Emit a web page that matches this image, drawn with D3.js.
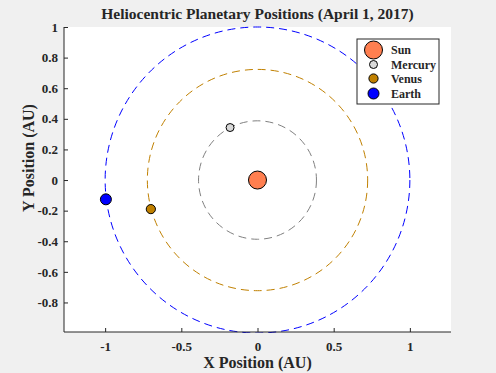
<!DOCTYPE html>
<html>
<head>
<meta charset="utf-8">
<script src="https://cdn.jsdelivr.net/npm/d3@7"></script>
<style>
  body { margin: 0; background: #f0f0f0; }
  text { font-family: "Liberation Serif", "Times New Roman", serif; font-weight: bold; fill: #262626; }
</style>
</head>
<body>
<script>
// chart data
var planets = ["Sun", "Mercury", "Venus", "Earth"];
var orbitRadius = [0, 0.387, 0.723, 1.0];
var posX = [0, -0.18, -0.70, -0.995];
var posY = [0, 0.343, -0.19, -0.126];
var xTicks = [-1, -0.5, 0, 0.5, 1];
var yTicks = [1, 0.8, 0.6, 0.4, 0.2, 0, -0.2, -0.4, -0.6, -0.8];

var fillColors = ["#ff7f50", "#d9d9d9", "#c08000", "#0000ff"];
var orbitColors = [null, "#808080", "#c08000", "#0000ff"];
var markerR = [9, 4, 4.6, 5.5];

function drawChart() {

var width = 496, height = 373;
var mLeft = 64, mRight = 451, mTop = 27, mBottom = 332;

var svg = d3.select("body").append("svg")
  .attr("width", width)
  .attr("height", height);

svg.append("rect").attr("width", width).attr("height", height).attr("fill", "#f0f0f0");

var x = d3.scaleLinear().domain([-1.27, 1.27]).range([mLeft, mRight]);
var y = d3.scaleLinear().domain([-0.993, 1.0]).range([mBottom, mTop]);

// plot area
svg.append("rect")
  .attr("x", mLeft).attr("y", mTop)
  .attr("width", mRight - mLeft).attr("height", mBottom - mTop)
  .attr("fill", "#fff");

svg.append("clipPath").attr("id", "clip")
  .append("rect")
  .attr("x", mLeft).attr("y", mTop - 1)
  .attr("width", mRight - mLeft).attr("height", mBottom - mTop + 2);

var plot = svg.append("g").attr("clip-path", "url(#clip)");

// orbits
plot.selectAll("ellipse.orbit")
  .data(planets.slice(1))
  .enter()
  .append("ellipse")
  .attr("class", "orbit")
  .attr("cx", x(0))
  .attr("cy", y(0))
  .attr("rx", function(d, i) { return x(orbitRadius[i + 1]) - x(0); })
  .attr("ry", function(d, i) { return y(0) - y(orbitRadius[i + 1]); })
  .attr("fill", "none")
  .attr("stroke", function(d, i) { return orbitColors[i + 1]; })
  .attr("stroke-width", 1)
  .attr("stroke-dasharray", "8,5");

// planets
plot.selectAll("circle.planet")
  .data(planets)
  .enter()
  .append("circle")
  .attr("class", "planet")
  .attr("cx", function(d, i) { return x(posX[i]); })
  .attr("cy", function(d, i) { return y(posY[i]); })
  .attr("r", function(d, i) { return markerR[i]; })
  .attr("fill", function(d, i) { return fillColors[i]; })
  .attr("stroke", "#000")
  .attr("stroke-width", 1);

// axes
var xAxis = d3.axisBottom(x).tickValues(xTicks).tickSizeInner(-4).tickSizeOuter(0)
  .tickPadding(10).tickFormat(d3.format("~g"));
var gx = svg.append("g").attr("transform", "translate(0," + mBottom + ")").call(xAxis);

var yAxis = d3.axisLeft(y).tickValues(yTicks).tickSizeInner(-4).tickSizeOuter(0)
  .tickPadding(6).tickFormat(d3.format("~g"));
var gy = svg.append("g").attr("transform", "translate(" + mLeft + ",0)").call(yAxis);

[gx, gy].forEach(function(g) {
  g.select(".domain").attr("stroke", "#262626");
  g.selectAll(".tick line").attr("stroke", "#262626");
  g.selectAll(".tick text")
    .style("font-family", '"Liberation Serif", serif')
    .style("font-weight", "bold")
    .style("font-size", "13px")
    .attr("fill", "#262626")
    .text(function(d) { return d3.format("~g")(d).replace("\u2212", "-"); });
});
gy.select(".domain").attr("d", "M0," + mTop + "V" + mBottom);
gx.select(".domain").attr("d", "M" + mLeft + ",0H" + mRight);

// title and labels
svg.append("text")
  .attr("x", (mLeft + mRight) / 2).attr("y", 19)
  .attr("text-anchor", "middle")
  .style("font-size", "15.5px")
  .text("Heliocentric Planetary Positions (April 1, 2017)");

svg.append("text")
  .attr("x", (mLeft + mRight) / 2).attr("y", 368)
  .attr("text-anchor", "middle")
  .style("font-size", "16px")
  .text("X Position (AU)");

svg.append("text")
  .attr("transform", "translate(34,158) rotate(-90)")
  .attr("text-anchor", "middle")
  .style("font-size", "16px")
  .text("Y Position (AU)");

// legend
var lg = svg.append("g").attr("transform", "translate(357,39)");
lg.append("rect")
  .attr("width", 82).attr("height", 65)
  .attr("fill", "#fff")
  .attr("stroke", "#262626")
  .attr("stroke-width", 1);

var rowY = [11, 25.5, 39.5, 54.5];
var items = lg.selectAll("g.item")
  .data(planets)
  .enter()
  .append("g")
  .attr("class", "item")
  .attr("transform", function(d, i) { return "translate(0," + rowY[i] + ")"; });

items.append("circle")
  .attr("cx", 16.5)
  .attr("r", function(d, i) { return markerR[i]; })
  .attr("fill", function(d, i) { return fillColors[i]; })
  .attr("stroke", "#000");

items.append("text")
  .attr("x", 34)
  .attr("dy", "0.35em")
  .style("font-size", "12px")
  .text(function(d) { return d; });
}

drawChart();
</script>
</body>
</html>
